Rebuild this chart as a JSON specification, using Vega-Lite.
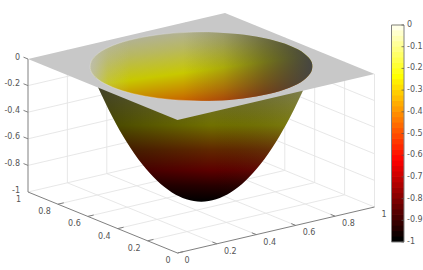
{"$schema":"https://vega.github.io/schema/vega-lite/v6.json","width":423,"height":270,"padding":0,"autosize":{"type":"none"},"background":"white","view":{"stroke":null},
"data":{"values":[
{"kind":"grid","x":0.2,"y":0,"z":-1,"x2":0.2,"y2":1,"z2":-1},{"kind":"grid","x":0.4,"y":0,"z":-1,"x2":0.4,"y2":1,"z2":-1},{"kind":"grid","x":0.6,"y":0,"z":-1,"x2":0.6,"y2":1,"z2":-1},{"kind":"grid","x":0.8,"y":0,"z":-1,"x2":0.8,"y2":1,"z2":-1},{"kind":"grid","x":1,"y":0,"z":-1,"x2":1,"y2":1,"z2":-1},
{"kind":"grid","x":0,"y":0.2,"z":-1,"x2":1,"y2":0.2,"z2":-1},{"kind":"grid","x":0,"y":0.4,"z":-1,"x2":1,"y2":0.4,"z2":-1},{"kind":"grid","x":0,"y":0.6,"z":-1,"x2":1,"y2":0.6,"z2":-1},{"kind":"grid","x":0,"y":0.8,"z":-1,"x2":1,"y2":0.8,"z2":-1},{"kind":"grid","x":0,"y":1,"z":-1,"x2":1,"y2":1,"z2":-1},
{"kind":"grid","x":0,"y":1,"z":-0.8,"x2":1,"y2":1,"z2":-0.8},{"kind":"grid","x":0,"y":1,"z":-0.6,"x2":1,"y2":1,"z2":-0.6},{"kind":"grid","x":0,"y":1,"z":-0.4,"x2":1,"y2":1,"z2":-0.4},{"kind":"grid","x":0,"y":1,"z":-0.2,"x2":1,"y2":1,"z2":-0.2},
{"kind":"grid","x":1,"y":0,"z":-0.8,"x2":1,"y2":1,"z2":-0.8},{"kind":"grid","x":1,"y":0,"z":-0.6,"x2":1,"y2":1,"z2":-0.6},{"kind":"grid","x":1,"y":0,"z":-0.4,"x2":1,"y2":1,"z2":-0.4},{"kind":"grid","x":1,"y":0,"z":-0.2,"x2":1,"y2":1,"z2":-0.2},
{"kind":"grid","x":0.2,"y":1,"z":-1,"x2":0.2,"y2":1,"z2":0},{"kind":"grid","x":0.4,"y":1,"z":-1,"x2":0.4,"y2":1,"z2":0},{"kind":"grid","x":0.6,"y":1,"z":-1,"x2":0.6,"y2":1,"z2":0},{"kind":"grid","x":0.8,"y":1,"z":-1,"x2":0.8,"y2":1,"z2":0},{"kind":"grid","x":1,"y":1,"z":-1,"x2":1,"y2":1,"z2":0},
{"kind":"grid","x":1,"y":0,"z":-1,"x2":1,"y2":0,"z2":0},{"kind":"grid","x":1,"y":0.2,"z":-1,"x2":1,"y2":0.2,"z2":0},{"kind":"grid","x":1,"y":0.4,"z":-1,"x2":1,"y2":0.4,"z2":0},{"kind":"grid","x":1,"y":0.6,"z":-1,"x2":1,"y2":0.6,"z2":0},{"kind":"grid","x":1,"y":0.8,"z":-1,"x2":1,"y2":0.8,"z2":0},
{"kind":"axis","x":0,"y":0,"z":-1,"x2":1,"y2":0,"z2":-1},{"kind":"axis","x":0,"y":0,"z":-1,"x2":0,"y2":1,"z2":-1},{"kind":"axis","x":0,"y":1,"z":-1,"x2":0,"y2":1,"z2":0},
{"kind":"axis","x":0.2,"y":0,"z":-1,"x2":0.2,"y2":0.03,"z2":-1},{"kind":"axis","x":0.4,"y":0,"z":-1,"x2":0.4,"y2":0.03,"z2":-1},{"kind":"axis","x":0.6,"y":0,"z":-1,"x2":0.6,"y2":0.03,"z2":-1},{"kind":"axis","x":0.8,"y":0,"z":-1,"x2":0.8,"y2":0.03,"z2":-1},
{"kind":"axis","x":0,"y":0,"z":-1,"x2":0.03,"y2":0,"z2":-1},{"kind":"axis","x":0,"y":0.2,"z":-1,"x2":0.03,"y2":0.2,"z2":-1},{"kind":"axis","x":0,"y":0.4,"z":-1,"x2":0.03,"y2":0.4,"z2":-1},{"kind":"axis","x":0,"y":0.6,"z":-1,"x2":0.03,"y2":0.6,"z2":-1},{"kind":"axis","x":0,"y":0.8,"z":-1,"x2":0.03,"y2":0.8,"z2":-1},
{"kind":"axis","x":0,"y":1,"z":-0.8,"x2":0,"y2":1.03,"z2":-0.8},{"kind":"axis","x":0,"y":1,"z":-0.6,"x2":0,"y2":1.03,"z2":-0.6},{"kind":"axis","x":0,"y":1,"z":-0.4,"x2":0,"y2":1.03,"z2":-0.4},{"kind":"axis","x":0,"y":1,"z":-0.2,"x2":0,"y2":1.03,"z2":-0.2},{"kind":"axis","x":0,"y":1,"z":0,"x2":0,"y2":1.03,"z2":0},
{"kind":"shell","i":0,"x":0.1302,"y":0.7075,"z":-0.112},{"kind":"shell","i":1,"x":0.178,"y":0.6712,"z":-0.343},{"kind":"shell","i":2,"x":0.2258,"y":0.635,"z":-0.539},{"kind":"shell","i":3,"x":0.2736,"y":0.5987,"z":-0.699},{"kind":"shell","i":4,"x":0.3214,"y":0.5624,"z":-0.823},{"kind":"shell","i":5,"x":0.3692,"y":0.5261,"z":-0.912},{"kind":"shell","i":6,"x":0.417,"y":0.4899,"z":-0.965},{"kind":"shell","i":7,"x":0.4648,"y":0.4536,"z":-0.983},{"kind":"shell","i":8,"x":0.5126,"y":0.4173,"z":-0.965},{"kind":"shell","i":9,"x":0.5604,"y":0.381,"z":-0.912},{"kind":"shell","i":10,"x":0.6082,"y":0.3448,"z":-0.823},{"kind":"shell","i":11,"x":0.656,"y":0.3085,"z":-0.699},{"kind":"shell","i":12,"x":0.7038,"y":0.2722,"z":-0.539},{"kind":"shell","i":13,"x":0.7516,"y":0.236,"z":-0.343},{"kind":"shell","i":14,"x":0.7994,"y":0.1997,"z":-0.112},
{"kind":"plane","i":0,"x":0,"y":0,"z":0},{"kind":"plane","i":1,"x":1,"y":0,"z":0},{"kind":"plane","i":2,"x":1,"y":1,"z":0},{"kind":"plane","i":3,"x":0,"y":1,"z":0},
{"kind":"rim","i":0,"x":0.95,"y":0.5,"z":0},{"kind":"rim","i":1,"x":0.935,"y":0.617,"z":0},{"kind":"rim","i":2,"x":0.89,"y":0.725,"z":0},{"kind":"rim","i":3,"x":0.818,"y":0.818,"z":0},{"kind":"rim","i":4,"x":0.725,"y":0.89,"z":0},{"kind":"rim","i":5,"x":0.617,"y":0.935,"z":0},{"kind":"rim","i":6,"x":0.5,"y":0.95,"z":0},{"kind":"rim","i":7,"x":0.383,"y":0.935,"z":0},{"kind":"rim","i":8,"x":0.275,"y":0.89,"z":0},{"kind":"rim","i":9,"x":0.182,"y":0.818,"z":0},{"kind":"rim","i":10,"x":0.11,"y":0.725,"z":0},{"kind":"rim","i":11,"x":0.065,"y":0.617,"z":0},{"kind":"rim","i":12,"x":0.05,"y":0.5,"z":0},{"kind":"rim","i":13,"x":0.065,"y":0.383,"z":0},{"kind":"rim","i":14,"x":0.11,"y":0.275,"z":0},{"kind":"rim","i":15,"x":0.182,"y":0.182,"z":0},{"kind":"rim","i":16,"x":0.275,"y":0.11,"z":0},{"kind":"rim","i":17,"x":0.383,"y":0.065,"z":0},{"kind":"rim","i":18,"x":0.5,"y":0.05,"z":0},{"kind":"rim","i":19,"x":0.617,"y":0.065,"z":0},{"kind":"rim","i":20,"x":0.725,"y":0.11,"z":0},{"kind":"rim","i":21,"x":0.818,"y":0.182,"z":0},{"kind":"rim","i":22,"x":0.89,"y":0.275,"z":0},{"kind":"rim","i":23,"x":0.935,"y":0.383,"z":0},
{"kind":"xlab","x":0,"y":0,"z":-1,"label":"0"},{"kind":"xlab","x":0.2,"y":0,"z":-1,"label":"0.2"},{"kind":"xlab","x":0.4,"y":0,"z":-1,"label":"0.4"},{"kind":"xlab","x":0.6,"y":0,"z":-1,"label":"0.6"},{"kind":"xlab","x":0.8,"y":0,"z":-1,"label":"0.8"},{"kind":"xlab","x":1,"y":0,"z":-1,"label":"1"},
{"kind":"ylab","x":0,"y":0,"z":-1,"label":"0"},{"kind":"ylab","x":0,"y":0.2,"z":-1,"label":"0.2"},{"kind":"ylab","x":0,"y":0.4,"z":-1,"label":"0.4"},{"kind":"ylab","x":0,"y":0.6,"z":-1,"label":"0.6"},{"kind":"ylab","x":0,"y":0.8,"z":-1,"label":"0.8"},{"kind":"ylab","x":0,"y":1,"z":-1,"label":"1"},
{"kind":"zlab","x":0,"y":1,"z":-1,"label":"-1"},{"kind":"zlab","x":0,"y":1,"z":-0.8,"label":"-0.8"},{"kind":"zlab","x":0,"y":1,"z":-0.6,"label":"-0.6"},{"kind":"zlab","x":0,"y":1,"z":-0.4,"label":"-0.4"},{"kind":"zlab","x":0,"y":1,"z":-0.2,"label":"-0.2"},{"kind":"zlab","x":0,"y":1,"z":0,"label":"0"},
{"kind":"bar","z":-1,"label":"-1"},{"kind":"bar","z":-0.9,"label":"-0.9"},{"kind":"bar","z":-0.8,"label":"-0.8"},{"kind":"bar","z":-0.7,"label":"-0.7"},{"kind":"bar","z":-0.6,"label":"-0.6"},{"kind":"bar","z":-0.5,"label":"-0.5"},{"kind":"bar","z":-0.4,"label":"-0.4"},{"kind":"bar","z":-0.3,"label":"-0.3"},{"kind":"bar","z":-0.2,"label":"-0.2"},{"kind":"bar","z":-0.1,"label":"-0.1"},{"kind":"bar","z":0,"label":"0"},
{"kind":"cb","z":-1,"z2":-0.975},{"kind":"cb","z":-0.975,"z2":-0.95},{"kind":"cb","z":-0.95,"z2":-0.925},{"kind":"cb","z":-0.925,"z2":-0.9},{"kind":"cb","z":-0.9,"z2":-0.875},{"kind":"cb","z":-0.875,"z2":-0.85},{"kind":"cb","z":-0.85,"z2":-0.825},{"kind":"cb","z":-0.825,"z2":-0.8},{"kind":"cb","z":-0.8,"z2":-0.775},{"kind":"cb","z":-0.775,"z2":-0.75},{"kind":"cb","z":-0.75,"z2":-0.725},{"kind":"cb","z":-0.725,"z2":-0.7},{"kind":"cb","z":-0.7,"z2":-0.675},{"kind":"cb","z":-0.675,"z2":-0.65},{"kind":"cb","z":-0.65,"z2":-0.625},{"kind":"cb","z":-0.625,"z2":-0.6},{"kind":"cb","z":-0.6,"z2":-0.575},{"kind":"cb","z":-0.575,"z2":-0.55},{"kind":"cb","z":-0.55,"z2":-0.525},{"kind":"cb","z":-0.525,"z2":-0.5},{"kind":"cb","z":-0.5,"z2":-0.475},{"kind":"cb","z":-0.475,"z2":-0.45},{"kind":"cb","z":-0.45,"z2":-0.425},{"kind":"cb","z":-0.425,"z2":-0.4},{"kind":"cb","z":-0.4,"z2":-0.375},{"kind":"cb","z":-0.375,"z2":-0.35},{"kind":"cb","z":-0.35,"z2":-0.325},{"kind":"cb","z":-0.325,"z2":-0.3},{"kind":"cb","z":-0.3,"z2":-0.275},{"kind":"cb","z":-0.275,"z2":-0.25},{"kind":"cb","z":-0.25,"z2":-0.225},{"kind":"cb","z":-0.225,"z2":-0.2},{"kind":"cb","z":-0.2,"z2":-0.175},{"kind":"cb","z":-0.175,"z2":-0.15},{"kind":"cb","z":-0.15,"z2":-0.125},{"kind":"cb","z":-0.125,"z2":-0.1},{"kind":"cb","z":-0.1,"z2":-0.075},{"kind":"cb","z":-0.075,"z2":-0.05},{"kind":"cb","z":-0.05,"z2":-0.025},{"kind":"cb","z":-0.025,"z2":0},
{"kind":"frame","z":-1,"z2":0}
]},
"transform":[
{"calculate":"177.5+197*datum.x-149.5*datum.y","as":"sx"},
{"calculate":"253-46*datum.x-61*datum.y-133*(datum.z+1)","as":"sy"},
{"calculate":"177.5+197*datum.x2-149.5*datum.y2","as":"sx2"},
{"calculate":"253-46*datum.x2-61*datum.y2-133*(datum.z2+1)","as":"sy2"},
{"calculate":"242-217*(datum.z+1)","as":"by"},
{"calculate":"242-217*(datum.z2+1)","as":"by2"},
{"calculate":"391.5","as":"bx0"},
{"calculate":"401.5","as":"bx"},
{"calculate":"404","as":"bx2"},
{"calculate":"407","as":"bxl"}
],
"encoding":{
"x":{"field":"sx","type":"quantitative","scale":{"domain":[0,423]},"axis":null},
"y":{"field":"sy","type":"quantitative","scale":{"domain":[0,270],"reverse":true},"axis":null}
},
"layer":[
{"transform":[{"filter":"datum.kind==='grid'"}],"mark":{"type":"rule","stroke":"#e4e4e4","strokeWidth":0.9},"encoding":{"x2":{"field":"sx2"},"y2":{"field":"sy2"}}},
{"transform":[{"filter":"datum.kind==='axis'"}],"mark":{"type":"rule","stroke":"#808080","strokeWidth":1},"encoding":{"x2":{"field":"sx2"},"y2":{"field":"sy2"}}},
{"transform":[{"filter":"datum.kind==='shell'"}],"mark":{"type":"line","interpolate":"monotone","strokeWidth":0,"fill":{"gradient":"linear","x1":0,"y1":0,"x2":0,"y2":1,"stops":[{"offset":0,"color":"#6e6e48"},{"offset":0.34,"color":"#707000"},{"offset":0.55,"color":"#602800"},{"offset":0.73,"color":"#5c0000"},{"offset":0.86,"color":"#280000"},{"offset":1,"color":"#000000"}]}},"encoding":{"order":{"field":"i"}}},
{"transform":[{"filter":"datum.kind==='shell'"}],"mark":{"type":"line","interpolate":"monotone","strokeWidth":0,"fill":{"gradient":"linear","x1":0,"y1":0,"x2":1,"y2":0,"stops":[{"offset":0,"color":"rgba(0,0,0,0.4)"},{"offset":0.55,"color":"rgba(0,0,0,0)"},{"offset":1,"color":"rgba(255,255,160,0.12)"}]}},"encoding":{"order":{"field":"i"}}},
{"transform":[{"filter":"datum.kind==='plane'"}],"mark":{"type":"line","strokeWidth":0,"fill":"#c8c8c8"},"encoding":{"order":{"field":"i"}}},
{"transform":[{"filter":"datum.kind==='rim'"}],"mark":{"type":"line","interpolate":"catmull-rom-closed","strokeWidth":0,"fill":{"gradient":"linear","x1":0.28,"y1":0,"x2":0.72,"y2":1,"stops":[{"offset":0,"color":"#b0b0a0"},{"offset":0.25,"color":"#b8b860"},{"offset":0.55,"color":"#c8c800"},{"offset":0.8,"color":"#c88000"},{"offset":1,"color":"#c84000"}]}},"encoding":{"order":{"field":"i"}}},
{"transform":[{"filter":"datum.kind==='rim'"}],"mark":{"type":"line","interpolate":"catmull-rom-closed","strokeWidth":0,"fill":{"gradient":"linear","x1":0,"y1":0,"x2":1,"y2":0,"stops":[{"offset":0,"color":"rgba(190,190,180,0.9)"},{"offset":0.08,"color":"rgba(190,190,180,0.25)"},{"offset":0.18,"color":"rgba(190,190,180,0)"},{"offset":0.42,"color":"rgba(50,50,46,0)"},{"offset":0.6,"color":"rgba(50,50,46,0.2)"},{"offset":0.78,"color":"rgba(50,50,46,0.55)"},{"offset":1,"color":"rgba(70,70,66,1)"}]}},"encoding":{"order":{"field":"i"}}},
{"transform":[{"filter":"datum.kind==='rim'"}],"mark":{"type":"line","interpolate":"catmull-rom-closed","strokeWidth":0.5,"stroke":{"gradient":"linear","x1":0,"y1":0,"x2":1,"y2":0,"stops":[{"offset":0,"color":"rgba(235,235,235,0.8)"},{"offset":0.45,"color":"rgba(235,235,235,0.5)"},{"offset":0.6,"color":"rgba(235,235,235,0)"},{"offset":1,"color":"rgba(235,235,235,0)"}]}},"encoding":{"order":{"field":"i"}}},
{"transform":[{"filter":"datum.kind==='xlab'"}],"mark":{"type":"text","align":"left","baseline":"middle","dx":7,"dy":8,"font":"DejaVu Sans","fontSize":8,"fill":"#555555"},"encoding":{"text":{"field":"label"}}},
{"transform":[{"filter":"datum.kind==='ylab'"}],"mark":{"type":"text","align":"right","baseline":"middle","dx":-7,"dy":8,"font":"DejaVu Sans","fontSize":8,"fill":"#555555"},"encoding":{"text":{"field":"label"}}},
{"transform":[{"filter":"datum.kind==='zlab'"}],"mark":{"type":"text","align":"right","baseline":"middle","dx":-8,"dy":-1.5,"font":"DejaVu Sans","fontSize":8,"fill":"#555555"},"encoding":{"text":{"field":"label"}}},
{"transform":[{"filter":"datum.kind==='cb'"},{"calculate":"datum.by2-0.7","as":"by3"}],"mark":{"type":"rect"},"encoding":{"x":{"field":"bx0","type":"quantitative"},"x2":{"field":"bx2"},"y":{"field":"by","type":"quantitative"},"y2":{"field":"by3"},"color":{"field":"z","type":"quantitative","legend":null,"scale":{"domain":[-1,-0.635,-0.25,0],"range":["#000000","#ff0000","#ffff00","#ffffff"],"interpolate":"rgb"}}}},
{"transform":[{"filter":"datum.kind==='frame'"}],"mark":{"type":"rect","fill":null,"fillOpacity":0,"stroke":"#808080","strokeWidth":1},"encoding":{"x":{"field":"bx0","type":"quantitative"},"x2":{"field":"bx2"},"y":{"field":"by","type":"quantitative"},"y2":{"field":"by2"}}},
{"transform":[{"filter":"datum.kind==='bar'"}],"mark":{"type":"rule","stroke":"#555555","strokeWidth":0.7},"encoding":{"x":{"field":"bx","type":"quantitative"},"x2":{"field":"bx2"},"y":{"field":"by","type":"quantitative"}}},
{"transform":[{"filter":"datum.kind==='bar'"}],"mark":{"type":"text","align":"left","baseline":"middle","font":"DejaVu Sans","fontSize":8,"fill":"#555555"},"encoding":{"x":{"field":"bxl","type":"quantitative"},"y":{"field":"by","type":"quantitative"},"text":{"field":"label"}}}
]}
